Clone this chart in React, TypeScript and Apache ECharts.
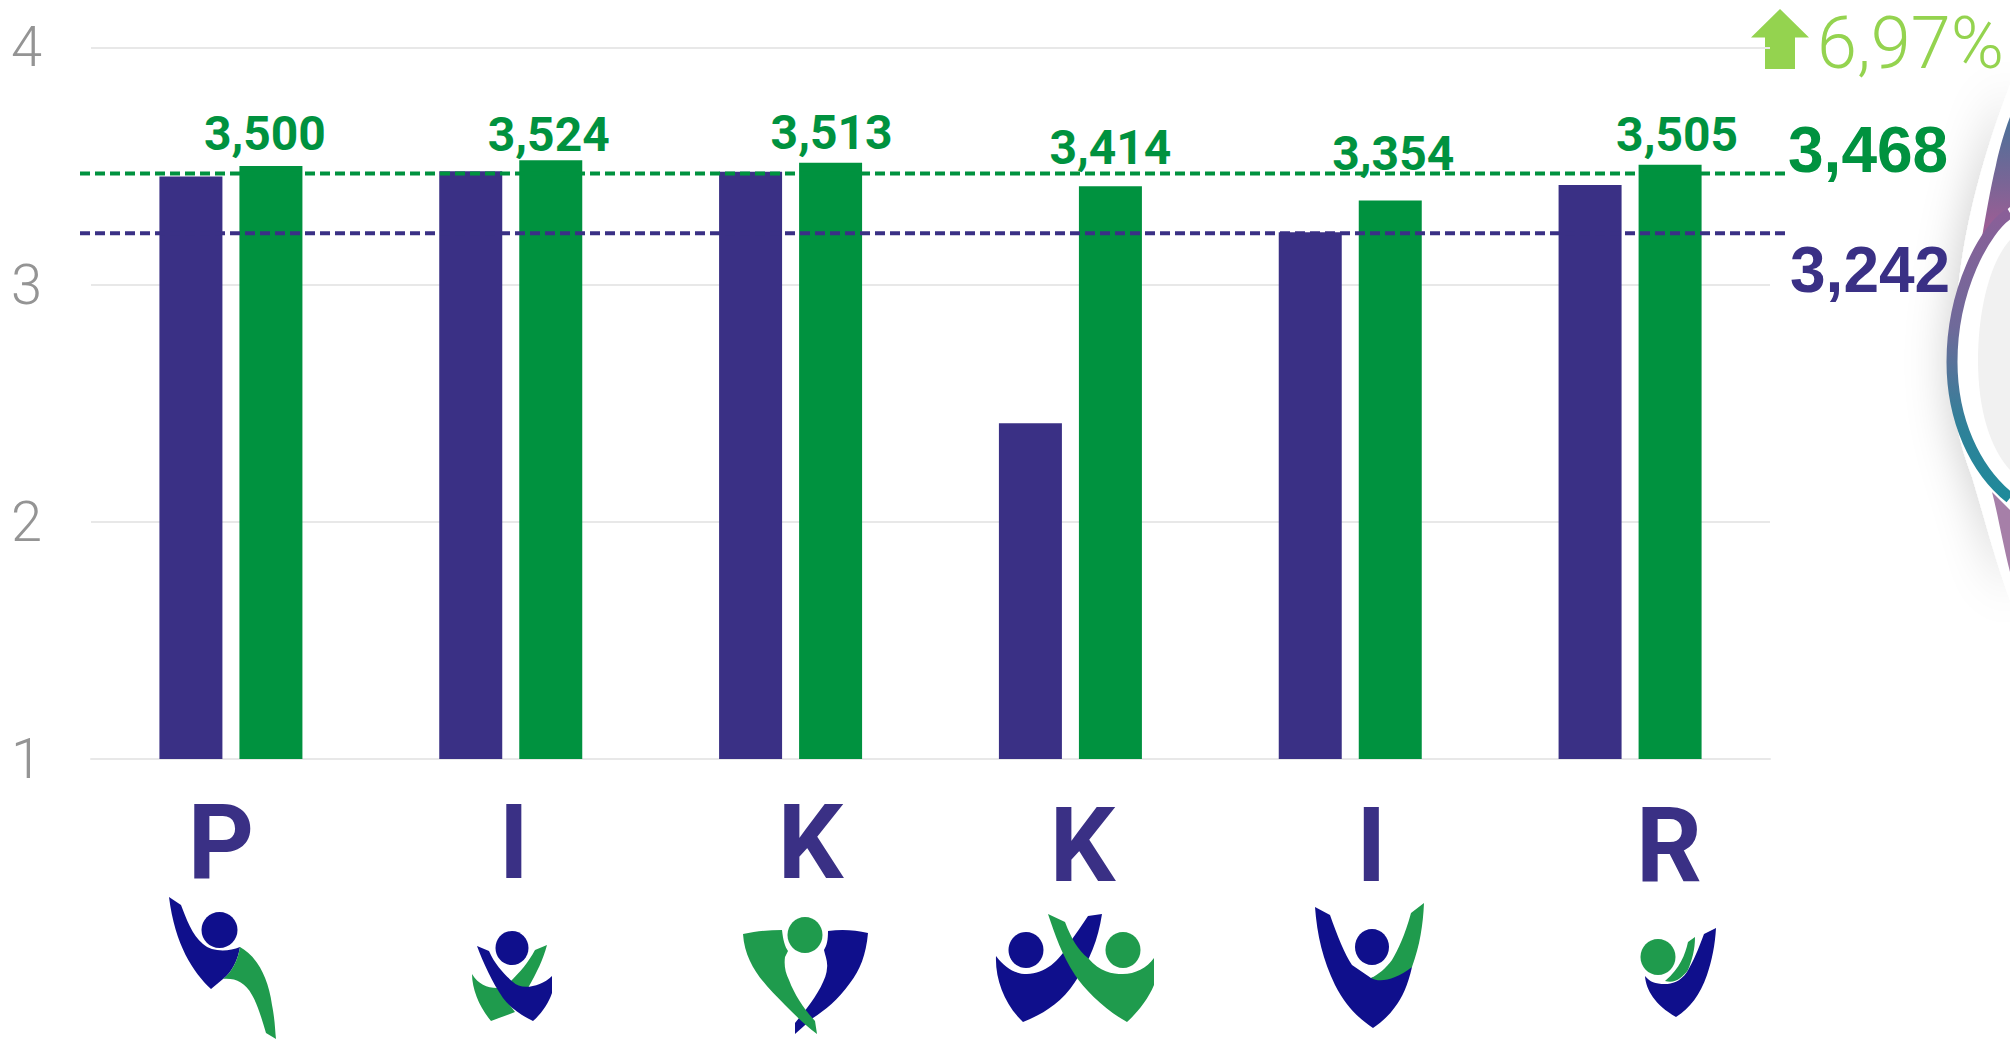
import React, { useEffect, useRef } from "react";
import * as echarts from "echarts";

const categories = ["P", "I", "K", "K", "I", "R"];
const purpleValues = [3.455, 3.477, 3.475, 2.415, 3.22, 3.42];
const greenValues = [3.5, 3.524, 3.513, 3.414, 3.354, 3.505];
const greenAverageLine = 3.468;
const purpleAverageLine = 3.216;
const yTicks = { min: 1, max: 4, interval: 1 };
const greenAverageText = "3,468";
const purpleAverageText = "3,242";
const changeText = "6,97%";

const PURPLE = "#3a3085";
const GREEN = "#00923f";
const LIGHT = "#94d34f";
const LOGO_BLUE = "#0f0f8c";
const LOGO_GREEN = "#1f9b4d";

const categoryShift = [[-10, 0], [3, 0], [20, 0], [12, 3], [21, 3], [39, 3]];
const labelShift = [[-6, -8], [-2, -2], [1, -6], [0, -15], [3, -23], [7, -6]];

const shapes: Record<string, [string, string]> = {
  l1a: ["M169 897 L181 905 C186 918 192 935 203 944 C212 952 228 952 240 947 C238 960 232 972 223 979 L211 989 C193 972 175 945 169 897 Z", LOGO_BLUE],
  l1b: ["M240 947 C255 955 268 975 272 1005 C275 1020 275 1030 276 1039 L266 1033 C262 1020 258 1005 252 995 C245 982 235 978 223 979 C232 972 238 960 240 947 Z", LOGO_GREEN],
  l2a: ["M547 945 L535 950 C528 963 520 972 510 982 L520 995 L528 988 C537 972 543 960 547 945 Z", LOGO_GREEN],
  l2b: ["M472 974 C478 984 487 988 497 988 L515 1012 L491 1021 C480 1008 472 990 472 974 Z", LOGO_GREEN],
  l2c: ["M477 946 L489 951 C495 965 505 975 513 982 C520 990 540 988 552 976 L552 993 C548 1005 540 1015 533 1021 C520 1015 510 1007 503 998 C492 982 483 962 477 946 Z", LOGO_BLUE],
  l3a: ["M828 931 C842 929 855 930 868 933 C866 955 860 970 850 983 C838 1000 825 1010 813 1018 L795 1034 L795 1023 L807 1008 C817 995 827 978 827 968 C828 962 825 955 824 950 C827 945 828 940 828 931 Z", LOGO_BLUE],
  l3b: ["M743 934 C757 931 770 930 782 930 C783 940 785 947 788 951 L785 957 C784 965 785 972 789 980 C795 996 805 1010 815 1021 L817 1034 C805 1025 795 1015 785 1005 C765 985 745 965 743 934 Z", LOGO_GREEN],
  l4a: ["M996 956 C1005 968 1015 974 1027 974 C1045 974 1060 960 1068 945 C1075 935 1082 925 1088 916 L1102 914 C1098 940 1090 960 1075 982 C1060 1005 1040 1015 1023 1022 C1005 1005 995 980 996 956 Z", LOGO_BLUE],
  l4b: ["M1048 914 L1065 922 C1072 940 1078 950 1088 958 C1100 972 1112 974 1123 974 C1135 974 1147 968 1154 958 L1154 985 C1148 1000 1135 1015 1127 1022 C1105 1010 1085 990 1075 975 C1062 955 1055 935 1048 914 Z", LOGO_GREEN],
  l5a: ["M1315 907 L1330 915 C1337 935 1345 955 1352 965 L1371 978 L1412 967 C1408 985 1402 998 1395 1007 C1388 1017 1380 1023 1373 1028 C1358 1018 1345 1005 1335 985 C1323 960 1317 935 1315 907 Z", LOGO_BLUE],
  l5b: ["M1424 903 L1411 913 C1405 935 1398 950 1392 960 C1386 968 1378 975 1371 978 C1380 983 1395 980 1412 967 C1420 945 1423 925 1424 903 Z", LOGO_GREEN],
  l6a: ["M1716 928 L1704 934 C1698 950 1694 960 1687 972 C1680 982 1672 984 1665 984 C1655 984 1650 982 1645 976 C1646 990 1655 1005 1676 1017 C1690 1008 1700 995 1707 975 C1712 960 1715 945 1716 928 Z", LOGO_BLUE],
  l6b: ["M1695 937 L1688 942 C1685 955 1680 968 1665 981 C1675 984 1682 978 1688 970 C1692 960 1695 950 1695 937 Z", LOGO_GREEN],
};
const heads: [number, number, number, number, string][] = [
  [219.5, 930, 18, 18, LOGO_BLUE],
  [512, 948, 16.5, 17, LOGO_BLUE],
  [805, 935, 17.5, 18, LOGO_GREEN],
  [1026, 950, 17.5, 18, LOGO_BLUE],
  [1123, 950, 17.5, 18, LOGO_GREEN],
  [1372, 947, 17, 18, LOGO_BLUE],
  [1658, 957, 17.5, 18, LOGO_GREEN],
];

const decoPaths: Record<string, string> = {
  decoBack: "M2010 85 C1985 150 1965 220 1958 290 C1945 360 1950 420 1972 477 C1985 520 1995 560 2010 600 Z",
  decoTop: "M2010 117 C2003 135 1998 155 1996 165 C1990 190 1986 215 1982 237 C1990 228 2000 215 2010 207 Z",
  decoLow: "M1992 492 L2010 510 L2010 572 C2002 540 1998 515 1992 492 Z",
  decoRing: "M2010 213 C1985 228 1952 290 1952 362 C1952 420 1975 470 2010 498",
  decoDisc: "M2010 240 C1990 262 1978 310 1978 360 C1978 410 1990 448 2010 470 Z",
};

let registered = false;
function register() {
  if (registered) return;
  registered = true;
  for (const k of Object.keys(shapes)) {
    echarts.graphic.registerShape(k, echarts.graphic.extendPath(shapes[k][0], {}) as any);
  }
  for (const k of Object.keys(decoPaths)) {
    echarts.graphic.registerShape(k, echarts.graphic.extendPath(decoPaths[k], {}) as any);
  }
}

const fmt = (v: number) => v.toFixed(3).replace(".", ",");

export default function App() {
  const ref = useRef<HTMLDivElement>(null);
  useEffect(() => {
    register();
    const chart = echarts.init(ref.current!, undefined, { renderer: "svg" });
    const top = 47.3;
    const height = 711.7;
    const lg = (stops: [number, string][]) => ({
      type: "linear", x: 0, y: 0, x2: 0, y2: 1, global: false,
      colorStops: stops.map(([offset, color]) => ({ offset, color })),
    });
    const graphic: any[] = [
      { type: "decoBack", x: 0, y: 0, style: { fill: "#ffffff", shadowBlur: 45, shadowColor: "rgba(0,0,0,0.22)" } },
      { type: "decoTop", x: 0, y: 0, style: { fill: lg([[0, "#4a7199"], [0.55, "#7a6596"], [1, "#a45c94"]]) } },
      { type: "decoLow", x: 0, y: 0, style: { fill: "#a67fa8" } },
      { type: "decoDisc", x: 0, y: 0, style: { fill: "#f1f1f1" } },
      { type: "decoRing", x: 0, y: 0, style: { fill: "none", stroke: lg([[0, "#8a5f98"], [0.4, "#6f6a9a"], [0.75, "#2f8199"], [1, "#1f8a9a"]]), lineWidth: 11 } },
      { type: "polygon", shape: { points: [[1780, 9], [1809, 37.5], [1795, 37.5], [1795, 69], [1765, 69], [1765, 37.5], [1751, 37.5]] }, style: { fill: LIGHT } },
      { type: "text", x: 1817, y: 43, style: { text: changeText, fill: LIGHT, font: '300 72px Roboto, "Liberation Sans", sans-serif', textAlign: "left", textVerticalAlign: "middle" } },
      { type: "text", x: 1788, y: 150, style: { text: greenAverageText, fill: GREEN, font: 'bold 64px "Liberation Sans", Arial, sans-serif', textAlign: "left", textVerticalAlign: "middle" } },
      { type: "text", x: 1790, y: 270, style: { text: purpleAverageText, fill: PURPLE, font: 'bold 64px "Liberation Sans", Arial, sans-serif', textAlign: "left", textVerticalAlign: "middle" } },
    ];
    for (const k of Object.keys(shapes)) {
      graphic.push({ type: k, x: 0, y: 0, style: { fill: shapes[k][1] } });
    }
    for (const [cx, cy, rx, ry, fill] of heads) {
      graphic.push({ type: "ellipse", shape: { cx, cy, rx, ry }, style: { fill } });
    }
    const avgLine = (value: number, color: string) => ({
      type: "line",
      xAxisIndex: 1,
      yAxisIndex: 1,
      data: [[0, value], [1, value]],
      symbol: "none",
      silent: true,
      z: 5,
      lineStyle: { color, width: 4, type: [10, 5] },
    });
    chart.setOption({
      animation: false,
      backgroundColor: "#ffffff",
      graphic,
      grid: [
        { left: 91, right: 240, top, height },
        { left: 80, right: 220, top, height },
      ],
      xAxis: [
        {
          type: "category",
          gridIndex: 0,
          data: categories.map((c, i) => {
            const [dx, dy] = categoryShift[i];
            return {
              value: c,
              textStyle: { padding: [dy, dx < 0 ? -2 * dx : 0, 0, dx > 0 ? 2 * dx : 0] },
            };
          }),
          axisLine: { show: true, lineStyle: { color: "#e8e8e8", width: 2 } },
          axisTick: { show: false },
          axisLabel: {
            interval: 0,
            margin: 32,
            color: PURPLE,
            fontFamily: "Roboto, sans-serif",
            fontWeight: "bold",
            fontSize: 103,
            lineHeight: 103,
          },
        },
        { type: "value", gridIndex: 1, min: 0, max: 1, show: false },
      ],
      yAxis: [
        {
          type: "value",
          gridIndex: 0,
          ...yTicks,
          axisLine: { show: false },
          axisTick: { show: false },
          splitLine: { lineStyle: { color: "#e8e8e8", width: 2 } },
          axisLabel: {
            margin: 49,
            color: "#949494",
            fontFamily: "Roboto, sans-serif",
            fontWeight: 300,
            fontSize: 56,
          },
        },
        { type: "value", gridIndex: 1, ...yTicks, show: false },
      ],
      series: [
        {
          type: "bar",
          name: "purple",
          data: purpleValues,
          barWidth: 63,
          barGap: "27%",
          itemStyle: { color: PURPLE },
        },
        {
          type: "bar",
          name: "green",
          barWidth: 63,
          barGap: "27%",
          itemStyle: { color: GREEN },
          data: greenValues.map((value, i) => ({
            value,
            label: {
              show: true,
              position: "top",
              distance: 0,
              offset: labelShift[i],
              formatter: () => fmt(value),
              color: GREEN,
              fontFamily: "Roboto, sans-serif",
              fontWeight: "bold",
              fontSize: 48,
              lineHeight: 48,
            },
          })),
        },
        avgLine(greenAverageLine, GREEN),
        avgLine(purpleAverageLine, PURPLE),
      ],
    });
    return () => chart.dispose();
  }, []);
  return <div ref={ref} style={{ position: "absolute", left: 0, top: 0, width: 2010, height: 1039 }} />;
}
